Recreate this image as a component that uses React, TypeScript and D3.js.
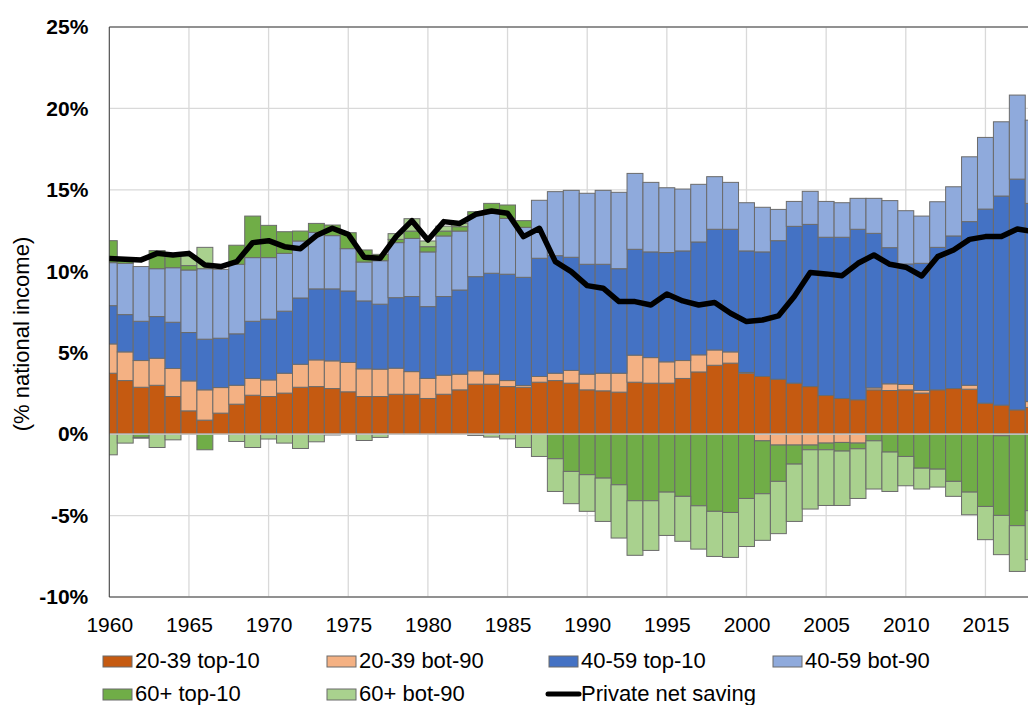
import React, { FC, useEffect, useRef } from "react"
import {
  axisBottom,
  axisLeft,
  line,
  range,
  scaleLinear,
  select,
  stack,
  stackOffsetDiverging,
} from "d3"

// categories
const years = range(1960, 2019)
const yearTicks = range(1960, 2016, 5)
const percentTicks = [-10, -5, 0, 5, 10, 15, 20, 25]

const seriesNames = [
  "20-39 top-10",
  "20-39 bot-90",
  "40-59 top-10",
  "40-59 bot-90",
  "60+ top-10",
  "60+ bot-90",
]
const seriesColors = ["#C55A11", "#F4B183", "#4472C4", "#8FAADC", "#70AD47", "#A9D18E"]
const lineName = "Private net saving"

// series values, % of national income, 1960..2018
const young_top10 = [
  3.74, 3.29, 2.88, 3.0, 2.31, 1.43, 0.86, 1.29, 1.84, 2.39,
  2.31, 2.52, 2.88, 2.92, 2.8, 2.6, 2.31, 2.31, 2.45, 2.45,
  2.19, 2.45, 2.72, 3.07, 3.07, 2.92, 2.88, 3.19, 3.29, 3.13,
  2.72, 2.66, 2.58, 3.19, 3.13, 3.13, 3.42, 3.82, 4.23, 4.36,
  3.74, 3.54, 3.37, 3.13, 2.92, 2.37, 2.19, 2.11, 2.72, 2.68,
  2.72, 2.52, 2.72, 2.8, 2.76, 1.9, 1.78, 1.49, 1.64,
]
const young_bot90 = [
  1.8, 1.76, 1.64, 1.66, 1.72, 1.84, 1.86, 1.57, 1.16, 1.03,
  1.02, 1.22, 1.41, 1.64, 1.7, 1.8, 1.7, 1.68, 1.6, 1.39,
  1.23, 1.17, 0.96, 0.82, 0.61, 0.37, 0.11, 0.35, 0.45, 0.78,
  0.96, 1.08, 1.16, 1.66, 1.57, 1.31, 1.1, 1.05, 0.94, 0.69,
  0.05, -0.41, -0.67, -0.67, -0.67, -0.55, -0.51, -0.55, 0.12, 0.41,
  0.33, 0.16, 0.0, 0.0, 0.24, 0.0, -0.1, 0.0, 0.36,
]
const middle_top10 = [
  2.35, 2.29, 2.41, 2.56, 2.84, 2.97, 3.11, 3.03, 3.16, 3.51,
  3.73, 3.81, 4.07, 4.36, 4.42, 4.39, 4.17, 3.99, 4.33, 4.61,
  4.41, 4.83, 5.17, 5.78, 6.2, 6.53, 6.64, 7.26, 7.22, 6.95,
  6.75, 6.69, 6.42, 6.5, 6.49, 6.71, 6.73, 6.93, 7.41, 7.53,
  7.46, 7.65, 8.51, 9.63, 9.96, 9.72, 9.9, 10.47, 9.49, 8.36,
  7.4, 7.81, 8.75, 9.37, 10.05, 11.92, 12.84, 14.17, 12.17,
]
const middle_bot90 = [
  2.64, 3.15, 3.36, 2.94, 3.35, 3.84, 4.33, 4.23, 4.27, 3.91,
  3.78, 3.55, 3.5, 3.47, 3.27, 2.6, 2.39, 2.67, 3.38, 3.57,
  3.36, 3.72, 3.62, 3.79, 3.92, 3.43, 3.07, 3.56, 3.93, 4.11,
  4.36, 4.54, 4.69, 4.66, 4.27, 3.98, 3.8, 3.54, 3.23, 2.88,
  2.96, 2.74, 1.92, 1.53, 2.03, 2.2, 2.12, 1.9, 2.15, 2.89,
  3.27, 2.9, 2.8, 3.02, 3.98, 4.4, 4.56, 5.16, 5.11,
]
const old_top10 = [
  1.35, 0.35, -0.2, 1.11, 0.72, 0.27, -0.96, 0.0, 1.17, 2.55,
  1.98, 1.33, 0.61, 0.55, 0.65, 0.98, 0.74, 0.39, 0.2, 0.45,
  0.32, 0.3, 0.27, 0.2, 0.37, 0.82, 0.41, 0.0, -1.51, -2.29,
  -2.49, -2.7, -3.11, -4.09, -4.09, -3.56, -3.82, -4.4, -4.74, -4.81,
  -3.95, -3.25, -2.23, -1.17, -0.29, -0.41, -0.53, -0.35, -0.41, -1.1,
  -1.37, -2.09, -2.15, -2.9, -3.56, -4.44, -4.89, -5.62, -4.7,
]
const old_bot90 = [
  -1.27, -0.55, -0.05, -0.82, -0.35, 0.59, 1.31, 0.0, -0.45, -0.82,
  -0.3, -0.55, -0.88, -0.47, -0.05, 0.0, -0.39, -0.2, 0.35, 0.76,
  0.35, 0.3, 0.2, -0.08, -0.18, -0.29, -0.82, -1.37, -2.01, -1.98,
  -2.25, -2.66, -3.27, -3.35, -3.05, -2.66, -2.76, -2.66, -2.77, -2.76,
  -2.95, -2.86, -3.21, -3.52, -3.64, -3.42, -3.34, -3.05, -2.96, -2.42,
  -1.8, -1.28, -1.1, -0.92, -1.39, -2.04, -2.41, -2.81, -3.01,
]
const privateSaving = [
  10.78, 10.74, 10.7, 11.1, 11.0, 11.1, 10.39, 10.29, 10.59, 11.76,
  11.88, 11.51, 11.39, 12.19, 12.64, 12.27, 10.86, 10.8, 12.13, 13.11,
  11.92, 13.05, 12.94, 13.5, 13.7, 13.56, 12.13, 12.64, 10.59, 9.98,
  9.12, 8.96, 8.14, 8.14, 7.93, 8.61, 8.18, 7.93, 8.08, 7.42,
  6.91, 7.01, 7.26, 8.45, 9.92, 9.84, 9.73, 10.49, 11.0, 10.43,
  10.25, 9.71, 10.9, 11.31, 11.96, 12.13, 12.13, 12.6, 12.43,
]

const seriesValues = [young_top10, young_bot90, middle_top10, middle_bot90, old_top10, old_bot90]

type Row = { year: number; [key: string]: number }

const FONT = "'Liberation Sans', Arial, sans-serif"

const SavingChart: FC = () => {
  const svgRef = useRef<SVGSVGElement>(null)

  useEffect(() => {
    const svg = select(svgRef.current)
    svg.selectAll("*").remove()

    // dimensions
    const width = 1028
    const height = 705
    const plot = { left: 109.3, top: 27, bottom: 597, right: 1028 }
    const step = 15.93

    // scales
    const xScale = scaleLinear()
      .domain([1960, 2018])
      .range([plot.left, plot.left + 58 * step])
    const yScale = scaleLinear().domain([-10, 25]).range([plot.bottom, plot.top])

    // rows for the stack
    const rows: Row[] = years.map((year, i) => {
      const row: Row = { year }
      seriesNames.forEach((name, s) => {
        row[name] = seriesValues[s][i]
      })
      return row
    })
    const layers = stack<Row>().keys(seriesNames).offset(stackOffsetDiverging)(rows)

    svg.attr("width", width).attr("height", height)

    svg
      .append("defs")
      .append("clipPath")
      .attr("id", "plot-clip")
      .append("rect")
      .attr("x", plot.left)
      .attr("y", plot.top - 1)
      .attr("width", plot.right - plot.left + 20)
      .attr("height", plot.bottom - plot.top + 2)

    // gridlines
    const grid = svg.append("g").attr("stroke", "#d9d9d9").attr("stroke-width", 1.3)
    grid
      .selectAll("line.h")
      .data(percentTicks)
      .join("line")
      .attr("class", "h")
      .attr("x1", plot.left)
      .attr("x2", plot.right)
      .attr("y1", (d) => yScale(d))
      .attr("y2", (d) => yScale(d))
    grid
      .selectAll("line.v")
      .data(yearTicks)
      .join("line")
      .attr("class", "v")
      .attr("x1", (d) => xScale(d))
      .attr("x2", (d) => xScale(d))
      .attr("y1", plot.top)
      .attr("y2", plot.bottom)

    // bars
    const bars = svg.append("g").attr("clip-path", "url(#plot-clip)")
    layers.forEach((layer, s) => {
      bars
        .append("g")
        .attr("fill", seriesColors[s])
        .attr("stroke", "#6b6b6b")
        .attr("stroke-width", 1)
        .selectAll("rect")
        .data(layer.filter((d) => Math.abs(d[1] - d[0]) > 0.001))
        .join("rect")
        .attr("x", (d) => xScale(d.data.year) - step / 2)
        .attr("width", step)
        .attr("y", (d) => yScale(Math.max(d[0], d[1])))
        .attr("height", (d) => Math.abs(yScale(d[0]) - yScale(d[1])))
    })

    // category axis line at zero
    svg
      .append("line")
      .attr("x1", plot.left)
      .attr("x2", plot.right)
      .attr("y1", yScale(0))
      .attr("y2", yScale(0))
      .attr("stroke", "#d9d9d9")
      .attr("stroke-width", 1.3)

    // frame
    svg
      .append("path")
      .attr(
        "d",
        `M${plot.right + 5},${plot.top}H${plot.left}V${plot.bottom}H${plot.right + 5}`,
      )
      .attr("fill", "none")
      .attr("stroke", "#404040")
      .attr("stroke-width", 1)

    // private net saving line
    const lineGenerator = line<number>()
      .x((_, i) => xScale(years[i]))
      .y((d) => yScale(d))
    svg
      .append("path")
      .attr("d", lineGenerator(privateSaving))
      .attr("fill", "none")
      .attr("stroke", "#000")
      .attr("stroke-width", 5.5)
      .attr("stroke-linejoin", "round")

    // y axis
    const yAxis = svg
      .append("g")
      .attr("transform", `translate(${plot.left},0)`)
      .call(
        axisLeft(yScale)
          .tickValues(percentTicks)
          .tickSize(0)
          .tickPadding(21)
          .tickFormat((d) => `${d}%`),
      )
    yAxis.select(".domain").remove()
    yAxis
      .selectAll("text")
      .attr("font-family", FONT)
      .attr("font-size", 21)
      .attr("font-weight", "bold")
      .attr("fill", "#000")

    // x axis
    const xAxis = svg
      .append("g")
      .attr("transform", `translate(0,${plot.bottom})`)
      .call(
        axisBottom(xScale)
          .tickValues(yearTicks)
          .tickSize(0)
          .tickPadding(20)
          .tickFormat((d) => `${d}`),
      )
    xAxis.select(".domain").remove()
    xAxis
      .selectAll("text")
      .attr("font-family", FONT)
      .attr("font-size", 21)
      .attr("fill", "#000")

    // y axis title
    svg
      .append("text")
      .attr("transform", `translate(29,${334}) rotate(-90)`)
      .attr("text-anchor", "middle")
      .attr("font-family", FONT)
      .attr("font-size", 22)
      .attr("fill", "#000")
      .text("(% national income)")

    // legend
    const legendItems = [
      ...seriesNames.map((name, s) => ({ name, color: seriesColors[s], isLine: false })),
      { name: lineName, color: "#000", isLine: true },
    ]
    const colX = [103, 327, 549, 773]
    const rowY = [668, 701]
    const legend = svg.append("g")
    legendItems.forEach((item, i) => {
      const cx = colX[i % 4]
      const by = rowY[Math.floor(i / 4)]
      const g = legend.append("g")
      if (item.isLine) {
        g.append("line")
          .attr("x1", cx - 1)
          .attr("x2", cx + 30)
          .attr("y1", by - 7)
          .attr("y2", by - 7)
          .attr("stroke", "#000")
          .attr("stroke-width", 5)
          .attr("stroke-linecap", "round")
      } else {
        g.append("rect")
          .attr("x", cx)
          .attr("y", by - 12)
          .attr("width", 29)
          .attr("height", 11)
          .attr("fill", item.color)
          .attr("stroke", "#6b6b6b")
          .attr("stroke-width", 1)
      }
      g.append("text")
        .attr("x", cx + 32)
        .attr("y", by)
        .attr("font-family", FONT)
        .attr("font-size", 22)
        .attr("fill", "#000")
        .text(item.name)
    })
  }, [])

  return (
    <svg
      ref={svgRef}
      style={{ position: "absolute", left: 0, top: 0, display: "block", background: "#fff" }}
    />
  )
}

export default function App() {
  return <SavingChart />
}
